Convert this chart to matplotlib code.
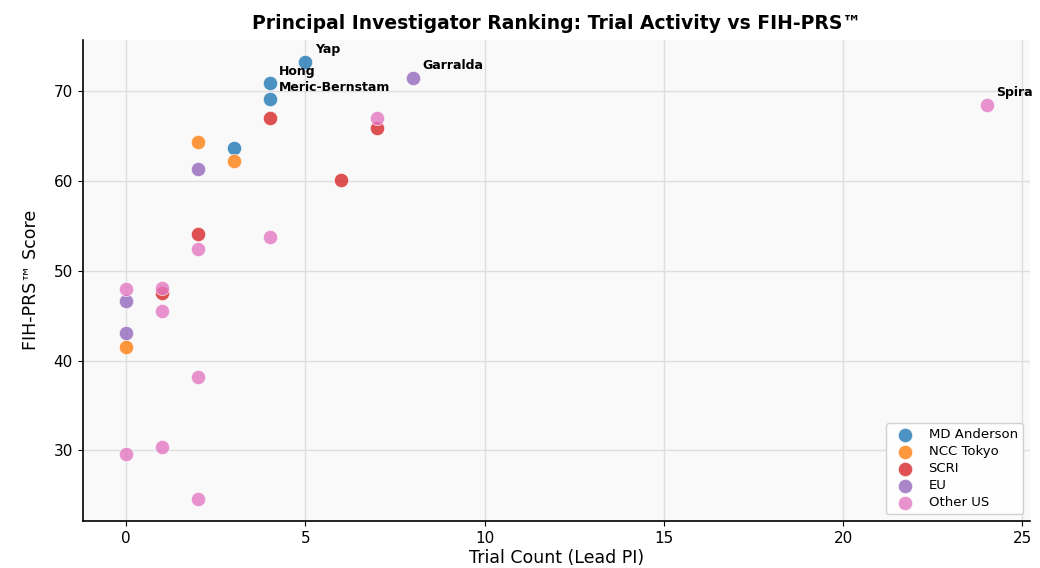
import matplotlib
matplotlib.use("Agg")
import matplotlib.pyplot as plt

groups = ["MD Anderson", "NCC Tokyo", "SCRI", "EU", "Other US"]
colors = ["#1f77b4", "#ff7f0e", "#d62728", "#9467bd", "#e377c2"]

md_x = [5, 4, 4, 3]
md_y = [73.3, 70.9, 69.1, 63.7]
md_names = ["Yap", "Hong", "Meric-Bernstam", ""]

ncc_x = [2, 3, 0]
ncc_y = [64.3, 62.2, 41.5]

scri_x = [4, 7, 6, 2, 1]
scri_y = [67.0, 65.9, 60.1, 54.1, 47.5]

eu_x = [8, 2, 0, 0]
eu_y = [71.5, 61.3, 46.7, 43.1]
eu_names = ["Garralda", "", "", ""]

oth_x = [24, 7, 4, 2, 0, 1, 1, 2, 1, 0, 2]
oth_y = [68.5, 67.0, 53.8, 52.4, 48.0, 48.1, 45.5, 38.2, 30.4, 29.6, 24.6]
oth_names = ["Spira", "", "", "", "", "", "", "", "", "", ""]

series = [(md_x, md_y), (ncc_x, ncc_y), (scri_x, scri_y), (eu_x, eu_y), (oth_x, oth_y)]
labels = [(md_x, md_y, md_names), (eu_x, eu_y, eu_names), (oth_x, oth_y, oth_names)]

fig, ax = plt.subplots(figsize=(10.4, 5.68), dpi=100)
fig.subplots_adjust(left=0.08, right=0.99, top=0.93, bottom=0.083)
ax.set_facecolor("#f9f9f9")
ax.grid(True, color="#dedede", linewidth=1.0)
ax.set_axisbelow(True)

for (xs, ys), name, c in zip(series, groups, colors):
    ax.scatter(xs, ys, s=105, color=c, alpha=0.8, edgecolors="white", linewidths=0.5, label=name, zorder=3)

for xs, ys, names in labels:
    for x, y, n in zip(xs, ys, names):
        if n:
            ax.annotate(n, (x, y), xytext=(7, 4), textcoords="offset points",
                        fontsize=9, fontweight="bold", ha="left", va="bottom")

ax.set_title("Principal Investigator Ranking: Trial Activity vs FIH-PRS™", fontsize=13.5, fontweight="bold", pad=8)
ax.set_xlabel("Trial Count (Lead PI)", fontsize=12.5, labelpad=2)
ax.set_ylabel("FIH-PRS™ Score", fontsize=12.5, labelpad=10)
ax.tick_params(labelsize=11, pad=4)
for s in ["top", "right"]:
    ax.spines[s].set_visible(False)
ax.spines["left"].set_linewidth(1.2)
ax.spines["bottom"].set_linewidth(1.2)

leg = ax.legend(loc="lower right", fontsize=9.5, frameon=True, framealpha=0.9, edgecolor="#cccccc",
                labelspacing=0.3, markerscale=1.0)

fig.savefig("out.png", dpi=100)
